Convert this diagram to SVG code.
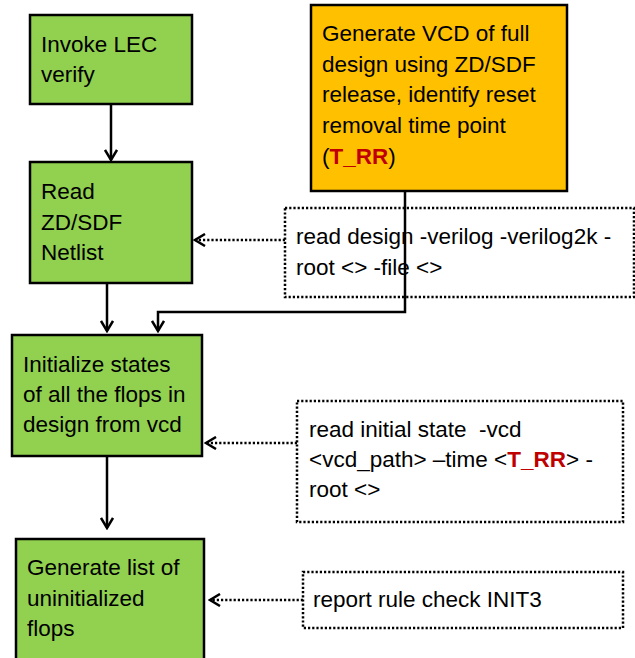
<svg xmlns="http://www.w3.org/2000/svg" width="635" height="658" viewBox="0 0 635 658">
<style>
.g{fill:#92D050;stroke:#000;stroke-width:2.5}
.o{fill:#FFC000;stroke:#000;stroke-width:2.5}
.d{fill:#fff;stroke:#000;stroke-width:2.5;stroke-dasharray:2.2 2}
.t{font-family:"Liberation Sans",Arial,sans-serif;font-size:22.5px;fill:#000;white-space:pre}
.r{fill:#C00000;font-weight:bold}
.c{fill:none;stroke:#000;stroke-width:2.5}
.cd{fill:none;stroke:#000;stroke-width:2.5;stroke-dasharray:2.2 2}
</style>
<defs>
<marker id="a" markerUnits="userSpaceOnUse" viewBox="-12 -7 14 14" markerWidth="14" markerHeight="14" refX="0" refY="0" orient="auto">
<path d="M-10,-6 L0,0 L-10,6" fill="none" stroke="#000" stroke-width="2.5"/>
</marker>
</defs>
<g id="n1"><rect class="g" x="30" y="15" width="162" height="89"/>
<text class="t" x="41" y="52">Invoke LEC</text><text class="t" x="41" y="82">verify</text></g>
<g id="n2"><rect class="g" x="30" y="162" width="162" height="121"/>
<text class="t" x="41" y="199">Read</text><text class="t" x="41" y="230">ZD/SDF</text><text class="t" x="41" y="260">Netlist</text></g>
<g id="n3"><rect class="o" x="311" y="5" width="256" height="186"/>
<text class="t" x="322" y="41">Generate VCD of full</text>
<text class="t" x="322" y="72">design using ZD/SDF</text>
<text class="t" x="322" y="102">release, identify reset</text>
<text class="t" x="322" y="133">removal time point</text>
<text class="t" x="322" y="164">(<tspan class="r">T_RR</tspan>)</text></g>
<g id="n4"><rect class="d" x="285" y="208" width="349" height="89"/>
<text class="t" x="296" y="244">read design -verilog -verilog2k -</text>
<text class="t" x="296" y="275">root &lt;&gt; -file &lt;&gt;</text></g>
<g id="n5"><rect class="g" x="12" y="335" width="190" height="121"/>
<text class="t" x="23" y="372">Initialize states</text>
<text class="t" x="23" y="402">of all the flops in</text>
<text class="t" x="23" y="432">design from vcd</text></g>
<g id="n6"><rect class="d" x="297" y="401" width="326" height="121"/>
<text class="t" x="309" y="437" xml:space="preserve">read initial state  -vcd</text>
<text class="t" x="309" y="467">&lt;vcd_path&gt; –time &lt;<tspan class="r">T_RR</tspan>&gt; -</text>
<text class="t" x="309" y="497">root &lt;&gt;</text></g>
<g id="n7"><rect class="g" x="16" y="539" width="188" height="130"/>
<text class="t" x="27" y="575">Generate list of</text>
<text class="t" x="27" y="606">uninitialized</text>
<text class="t" x="27" y="636">flops</text></g>
<g id="n8"><rect class="d" x="303" y="572" width="320" height="56"/>
<text class="t" x="313" y="607">report rule check INIT3</text></g>
<g id="connectors">
<path class="c" d="M111,104 V160" marker-end="url(#a)"/>
<path class="c" d="M107,283 V331" marker-end="url(#a)"/>
<path class="c" d="M405,191 V312 H158 V331" marker-end="url(#a)"/>
<path class="c" d="M107,456 V528" marker-end="url(#a)"/>
<path class="cd" d="M285,240 H195" marker-end="url(#a)"/>
<path class="cd" d="M297,443 H206" marker-end="url(#a)"/>
<path class="cd" d="M303,600 H210" marker-end="url(#a)"/>
</g>
</svg>
